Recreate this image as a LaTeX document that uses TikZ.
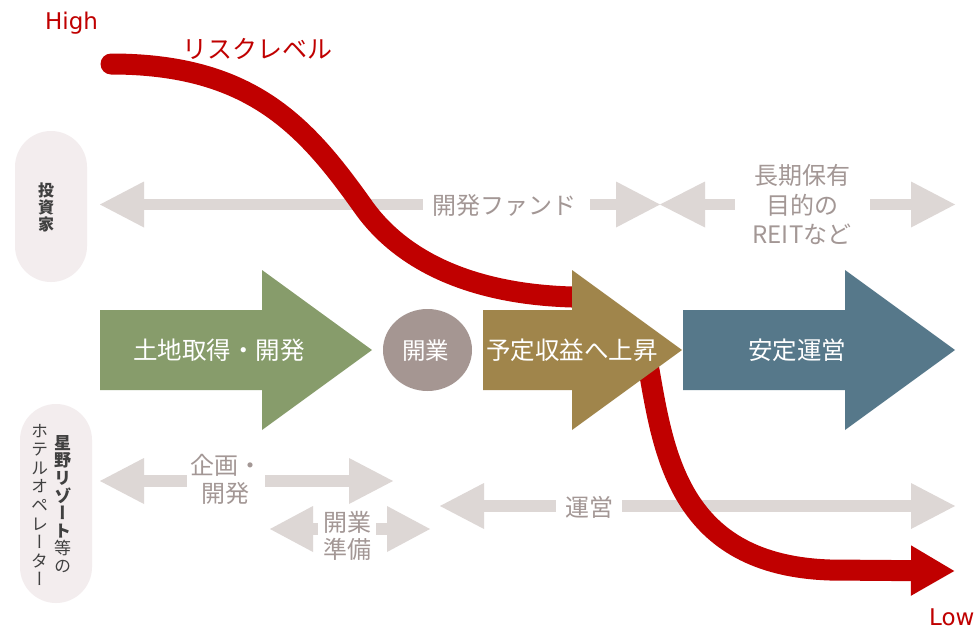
\documentclass[tikz,border=0pt]{standalone}
\usepackage{fontspec}
\setmainfont{Noto Sans CJK JP}
\newfontfamily\latinfont{DejaVu Sans}
\newfontfamily\vertfont{Noto Sans CJK JP}[RawFeature=+vert]
\usetikzlibrary{arrows.meta}
\definecolor{redline}{HTML}{C00000}
\definecolor{greenA}{HTML}{879C6B}
\definecolor{brownA}{HTML}{A0854B}
\definecolor{blueA}{HTML}{56788A}
\definecolor{circleA}{HTML}{A59692}
\definecolor{grayarrow}{HTML}{DDD7D5}
\definecolor{graytext}{HTML}{A39795}
\definecolor{pillfill}{HTML}{F3EDEE}
\definecolor{pilltext}{HTML}{404040}
\begin{document}
\begin{tikzpicture}[x=1pt,y=-1pt,
  graytxt/.style={text=graytext, font=\fontsize{24}{30}\selectfont, anchor=base, inner sep=0pt},
  whitetxt/.style={text=white, font=\fontsize{24.5}{30}\selectfont, anchor=base, inner sep=0pt},
  redtxt/.style={text=redline, anchor=base west, inner sep=0pt, text depth=0pt},
  grayshape/.style={fill=grayarrow},
  pill/.style={fill=pillfill, rounded corners=36pt}]
\useasboundingbox (0,0) rectangle (979,629);
\fill[white] (0,0) rectangle (979,629);

% side pills
\fill[pill] (15,131) rectangle (87,282);
\fill[pill] (20,404) rectangle (92,603);
\node[text=pilltext, align=center, font=\bfseries\fontsize{16}{17}\selectfont, inner sep=0pt] (inv) at (46,207) {投\\資\\家};
\node[text=pilltext, align=center, font=\vertfont\fontsize{17}{17.6}\selectfont, inner sep=0pt] (hoshino) at (62.5,504)
  {\textbf{星}\\\textbf{野}\\\textbf{リ}\\\textbf{ゾ}\\\textbf{ー}\\\textbf{ト}\\等\\の};
\node[text=pilltext, align=center, font=\vertfont\fontsize{17}{18.6}\selectfont, inner sep=0pt] (hotelop) at (39.5,505)
  {ホ\\テ\\ル\\オ\\ペ\\レ\\ー\\タ\\ー};

% gray arrows, top row
\fill[grayshape] (100,204.5) -- (144,181.5) -- (144,227.5) -- cycle;
\fill[grayshape] (144,198.75) rectangle (423,210.25);
\fill[grayshape] (590,198.75) rectangle (616,210.25);
\fill[grayshape] (660,204.5) -- (616,181.5) -- (616,227.5) -- cycle;
\fill[grayshape] (660,204.5) -- (705,181.5) -- (705,227.5) -- cycle;
\fill[grayshape] (705,198.75) rectangle (735,210.25);
\fill[grayshape] (870,198.75) rectangle (911,210.25);
\fill[grayshape] (955,204.5) -- (911,181.5) -- (911,227.5) -- cycle;
\node[graytxt] (fund) at (504.5,214) {開発ファンド};
\node[graytxt] (reit1) at (802,184) {長期保有};
\node[graytxt] (reit2) at (802,214) {目的の};
\node[graytxt] (reit3) at (802,243) {REITなど};

% gray arrows, bottom rows
\fill[grayshape] (100,481) -- (144,458) -- (144,504) -- cycle;
\fill[grayshape] (144,475.25) rectangle (187,486.75);
\fill[grayshape] (265,475.25) rectangle (349,486.75);
\fill[grayshape] (393,481) -- (349,458) -- (349,504) -- cycle;
\node[graytxt] (plan1) at (226,474) {企画・};
\node[graytxt] (plan2) at (225,502) {開発};

\fill[grayshape] (270,529) -- (313,506) -- (313,552) -- cycle;
\fill[grayshape] (313,523.25) rectangle (318,534.75);
\fill[grayshape] (376,523.25) rectangle (387,534.75);
\fill[grayshape] (430,529) -- (387,506) -- (387,552) -- cycle;
\node[graytxt] (prep1) at (347,531) {開業};
\node[graytxt] (prep2) at (347,558) {準備};

\fill[grayshape] (440,506) -- (484,483) -- (484,529) -- cycle;
\fill[grayshape] (484,500.25) rectangle (556,511.75);
\fill[grayshape] (622,500.25) rectangle (911,511.75);
\fill[grayshape] (955,506) -- (911,483) -- (911,529) -- cycle;
\node[graytxt] (ops) at (589,516) {運営};

% risk curve
\draw[redline, line width=21pt, line cap=round, -{Triangle[length=44pt,width=47pt]}]
  (111,64) .. controls (250,64) and (305,125) .. (362,205)
  .. controls (400,260) and (470,294) .. (572,297)
  .. controls (598,299) and (632,322) .. (649,370)
  .. controls (664,455) and (680,565) .. (830,570)
  -- (955,571);
\node[redtxt, font=\latinfont\fontsize{23}{28}\selectfont] (high) at (45,29) {High};
\node[redtxt, font=\latinfont\fontsize{23}{28}\selectfont] (low) at (929,625) {Low};
\node[text=redline, anchor=base, inner sep=0pt, font=\fontsize{25}{30}\selectfont] (risk) at (257,58) {リスクレベル};

% main phase arrows
\fill[greenA] (100,310) -- (262,310) -- (262,270) -- (372,350) -- (262,430) -- (262,390) -- (100,390) -- cycle;
\fill[circleA] (427.5,350) ellipse [x radius=44.5pt, y radius=41pt];
\fill[brownA] (483,310) -- (572,310) -- (572,270) -- (682,350) -- (572,430) -- (572,390) -- (483,390) -- cycle;
\fill[blueA] (683,310) -- (845,310) -- (845,270) -- (955,350) -- (845,430) -- (845,390) -- (683,390) -- cycle;
\node[whitetxt] (land) at (219,359.5) {土地取得・開発};
\node[whitetxt, font=\fontsize{23.5}{30}\selectfont] (open) at (425.5,359.5) {開業};
\node[whitetxt] (rise) at (572,359.5) {予定収益へ上昇};
\node[whitetxt] (stable) at (797,359.5) {安定運営};
\end{tikzpicture}
\end{document}
